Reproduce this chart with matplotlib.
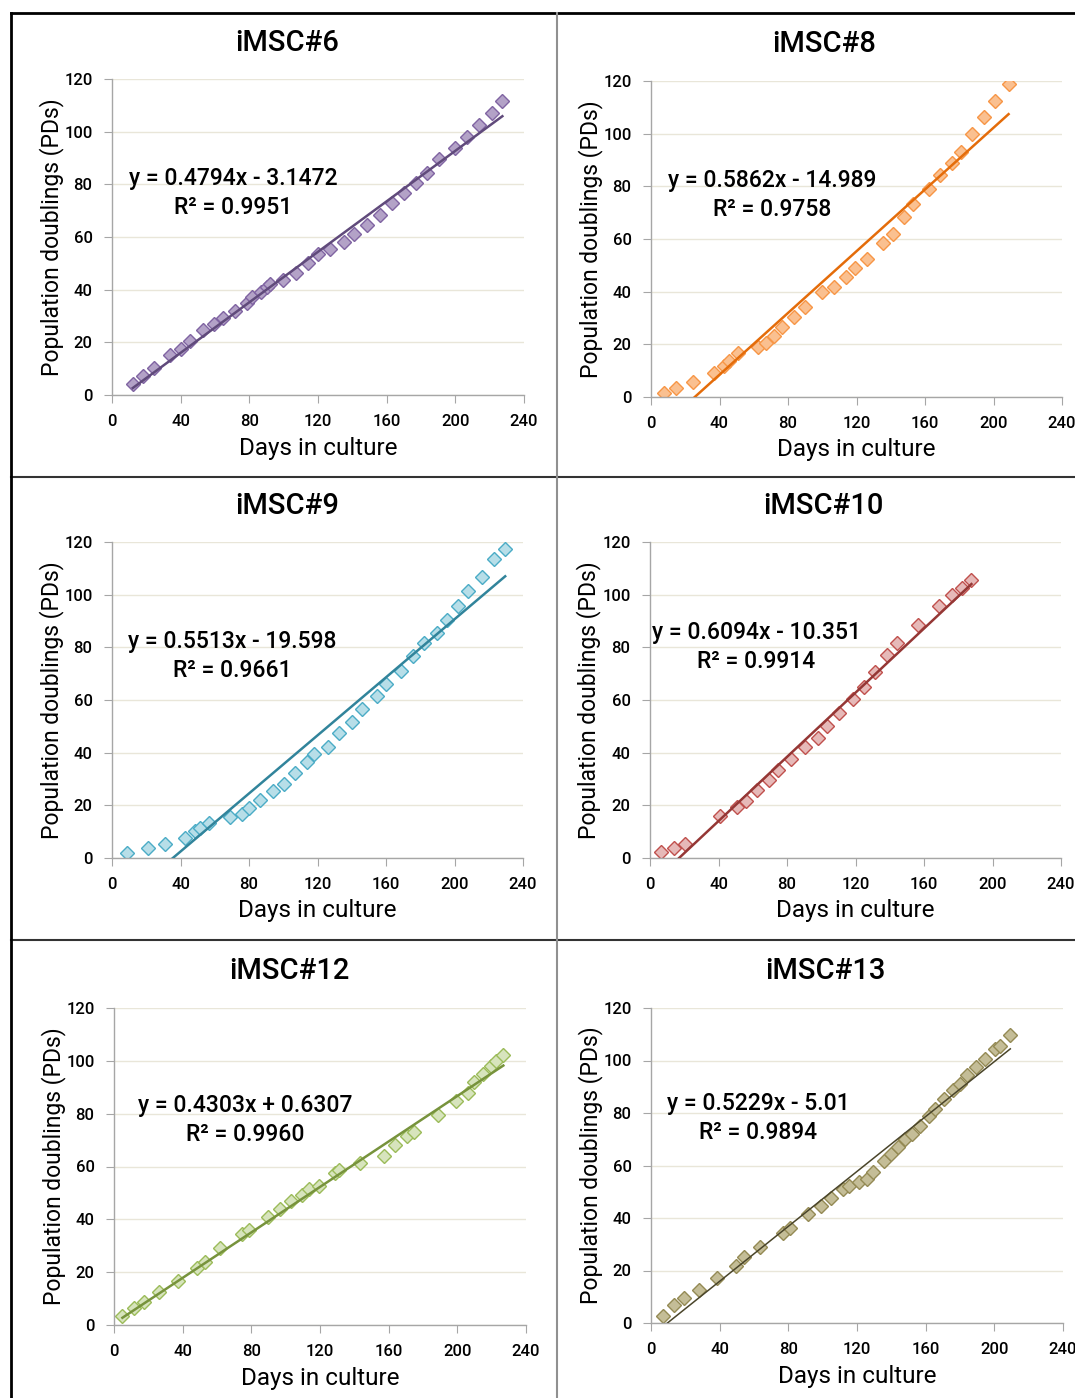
import matplotlib.pyplot as plt
from matplotlib.lines import Line2D
import numpy as np

plt.rcParams['font.family'] = ['Roboto', 'DejaVu Sans']
plt.rcParams['font.weight'] = 'medium'

W, H = 1075, 1398

titles = ['iMSC#6', 'iMSC#8', 'iMSC#9', 'iMSC#10', 'iMSC#12', 'iMSC#13']

# days in culture / population doublings
days_6 = [12.1, 18.3, 24.7, 33.7, 40.1, 45.5, 52.9, 59.5, 64.6, 71.6, 78.8, 81.5, 86.6, 90.3, 92.2,
          99.6, 107.0, 114.2, 120.2, 126.8, 135.0, 140.8, 148.8, 156.0, 163.2, 170.0, 177.0, 183.7,
          190.7, 199.8, 207.0, 213.8, 221.2, 227.4]
pd_6 = [4.2, 7.2, 10.4, 15.2, 17.6, 20.6, 24.7, 27.0, 29.1, 32.0, 35.1, 37.1, 39.2, 41.1, 42.0,
        43.7, 46.5, 50.3, 53.4, 55.3, 58.2, 61.0, 64.6, 68.4, 72.8, 76.6, 80.4, 84.4,
        89.5, 93.7, 98.1, 102.5, 107.2, 111.6]

days_8 = [7.6, 14.6, 24.7, 36.8, 42.8, 45.5, 50.6, 62.6, 66.9, 72.0, 76.3, 83.7, 89.9, 99.6, 107.0,
          113.8, 119.1, 125.9, 135.2, 141.1, 147.9, 153.1, 162.5, 168.7, 175.7, 180.9, 187.5, 194.6,
          200.8, 208.8]
pd_8 = [1.5, 3.4, 5.7, 9.1, 11.9, 13.8, 16.6, 19.1, 20.5, 23.2, 26.7, 30.5, 34.1, 39.9, 41.9,
        45.6, 49.1, 52.5, 58.4, 62.0, 68.2, 73.4, 78.9, 84.4, 88.9, 92.9, 100.0, 106.3,
        112.4, 119.0]

days_9 = [8.6, 20.8, 30.9, 42.6, 48.6, 51.6, 56.4, 68.7, 75.9, 79.8, 86.6, 93.8, 100.6, 107.0, 113.6,
          118.1, 125.9, 132.7, 140.1, 145.9, 154.7, 159.9, 168.9, 175.9, 182.3, 189.7, 195.7, 201.8,
          207.8, 216.0, 222.8, 229.6]
pd_9 = [1.9, 3.9, 5.4, 7.7, 10.1, 11.4, 13.2, 15.4, 16.8, 18.9, 21.9, 25.4, 28.2, 32.3, 36.6,
        39.4, 42.2, 47.5, 51.5, 56.5, 61.6, 66.2, 71.0, 76.8, 81.5, 85.3, 90.5, 95.7,
        101.3, 106.6, 113.7, 117.5]

days_10 = [6.2, 14.2, 20.4, 40.9, 50.6, 55.8, 62.3, 69.6, 74.5, 82.3, 90.5, 97.9, 103.5, 110.5, 118.7,
           124.9, 131.3, 138.5, 144.4, 156.6, 168.7, 176.5, 182.3, 187.7]
pd_10 = [2.2, 3.8, 5.3, 16.1, 19.2, 21.8, 25.7, 29.5, 33.3, 37.6, 42.0, 45.6, 50.3, 55.2, 60.3,
         64.9, 70.6, 77.2, 81.5, 88.4, 95.7, 99.9, 102.4, 105.4]

days_12 = [4.9, 11.7, 17.7, 26.0, 37.1, 48.2, 53.0, 61.9, 74.8, 78.6, 89.9, 96.7, 103.0, 109.7, 113.6,
           119.6, 128.7, 131.3, 143.3, 157.1, 163.7, 170.9, 174.6, 188.9, 199.2, 206.0, 209.7, 214.9,
           219.4, 222.3, 226.8]
pd_12 = [3.4, 6.3, 8.6, 12.6, 16.5, 21.7, 24.0, 29.3, 34.3, 35.9, 40.9, 44.0, 47.0, 49.4, 51.3,
         52.7, 57.6, 58.6, 61.2, 63.8, 68.3, 71.5, 73.1, 79.4, 84.9, 88.0, 91.8, 95.0,
         98.1, 99.9, 102.1]

days_13 = [6.8, 13.4, 19.4, 27.8, 38.7, 49.4, 54.4, 63.6, 76.8, 81.0, 91.7, 98.9, 104.8, 111.6, 115.6,
           121.3, 125.8, 129.6, 135.9, 139.8, 143.6, 147.7, 151.8, 156.8, 161.9, 165.6, 170.5, 175.7,
           179.8, 184.1, 189.5, 194.8, 200.6, 203.1, 209.3]
pd_13 = [2.8, 6.7, 9.5, 12.4, 17.1, 21.8, 25.1, 28.9, 34.4, 36.1, 41.5, 44.7, 47.8, 50.9, 52.3,
         53.8, 54.9, 57.6, 61.8, 64.3, 67.1, 70.0, 72.0, 74.9, 78.7, 81.4, 85.4, 88.9,
         91.1, 94.3, 97.5, 100.4, 104.4, 105.4, 109.9]

# trendline coefficients shown on the chart
slopes = [0.4794, 0.5862, 0.5513, 0.6094, 0.4303, 0.5229]
intercepts = [-3.1472, -14.989, -19.598, -10.351, 0.6307, -5.01]
r2_text = ['0.9951', '0.9758', '0.9661', '0.9914', '0.9960', '0.9894']

all_days = [days_6, days_8, days_9, days_10, days_12, days_13]
all_pd = [pd_6, pd_8, pd_9, pd_10, pd_12, pd_13]

line_colors = ['#604A7B', '#E46C0A', '#31849B', '#953735', '#77933C', '#4A452A']
fill_colors = ['#B3A2C7', '#FAC090', '#B7DEE8', '#E6B9B8', '#D7E4BD', '#C4BD97']
edge_colors = ['#8064A2', '#F79646', '#4BACC6', '#C0504D', '#9BBB59', '#948A54']
line_widths = [1.8, 1.8, 1.8, 1.8, 1.8, 1.1]

# axes boxes in pixels: left, right, top, bottom
boxes = [(112, 524, 79, 395), (651, 1062, 81, 397),
         (112, 523, 542, 858), (650, 1061, 542, 858),
         (114, 526, 1008, 1325), (651, 1063, 1008, 1323)]
title_pos = [(287, 43), (824, 44), (287, 506), (823, 506), (289, 971), (825, 971)]
eq_pos = [(233, 193), (772, 195), (232, 656), (756, 647), (245, 1120), (758, 1118)]
ylab_x = [52, 591, 52, 589, 54, 591]

fig = plt.figure(figsize=(W / 100, H / 100), dpi=100)

for i in range(6):
    l, r, t, b = boxes[i]
    ax = fig.add_axes([l / W, 1 - b / H, (r - l) / W, (b - t) / H])
    x = np.array(all_days[i])
    y = np.array(all_pd[i])
    xf = np.array([x.min(), x.max()])
    ax.plot(xf, slopes[i] * xf + intercepts[i], color=line_colors[i], lw=line_widths[i], zorder=3)
    ax.plot(x, y, 'D', ms=6.8, mfc=fill_colors[i], mec=edge_colors[i], mew=1.0, zorder=2)

    ax.set_xlim(0, 240)
    ax.set_ylim(0, 120)
    ax.set_xticks(range(0, 241, 40))
    ax.set_yticks(range(0, 121, 20))
    ax.yaxis.grid(True, color='#E9E6D9', lw=1.0)
    ax.set_axisbelow(True)
    for s in ['top', 'right']:
        ax.spines[s].set_visible(False)
    for s in ['left', 'bottom']:
        ax.spines[s].set_color('#A6A6A6')
        ax.spines[s].set_linewidth(1.0)
    ax.tick_params(direction='out', length=6, color='#A6A6A6', labelsize=12, pad=8)

    ax.set_xlabel('Days in culture', fontsize=17.5)
    ax.xaxis.label.set_va('center')
    ax.xaxis.set_label_coords(0.5, -53 / (b - t))
    ax.set_ylabel('Population doublings (PDs)', fontsize=16.5)
    ax.yaxis.label.set_va('center')
    ax.yaxis.set_label_coords((ylab_x[i] - l) / (r - l), 0.5)

    sign = '-' if intercepts[i] < 0 else '+'
    eq = 'y = %sx %s %s\nR² = %s' % (str(slopes[i]), sign, str(abs(intercepts[i])), r2_text[i])
    fig.text(eq_pos[i][0] / W, 1 - eq_pos[i][1] / H, eq, ha='center', va='center',
             multialignment='center', fontsize=16.5, linespacing=1.3)

    fig.text(title_pos[i][0] / W, 1 - title_pos[i][1] / H, titles[i], ha='center', va='center',
             fontsize=21)

# panel frame
def hline(y, x0, x1, c, lw):
    fig.add_artist(Line2D([x0 / W, x1 / W], [1 - y / H, 1 - y / H], color=c, lw=lw))

def vline(x, y0, y1, c, lw):
    fig.add_artist(Line2D([x / W, x / W], [1 - y0 / H, 1 - y1 / H], color=c, lw=lw))

hline(13, 11, W, 'black', 2.0)
hline(477, 11, W, '#333333', 1.5)
hline(940, 11, W, '#333333', 1.5)
vline(11, 13, H, 'black', 2.0)
vline(557, 13, H, '#909090', 1.5)

fig.savefig('out.png', dpi=100)
